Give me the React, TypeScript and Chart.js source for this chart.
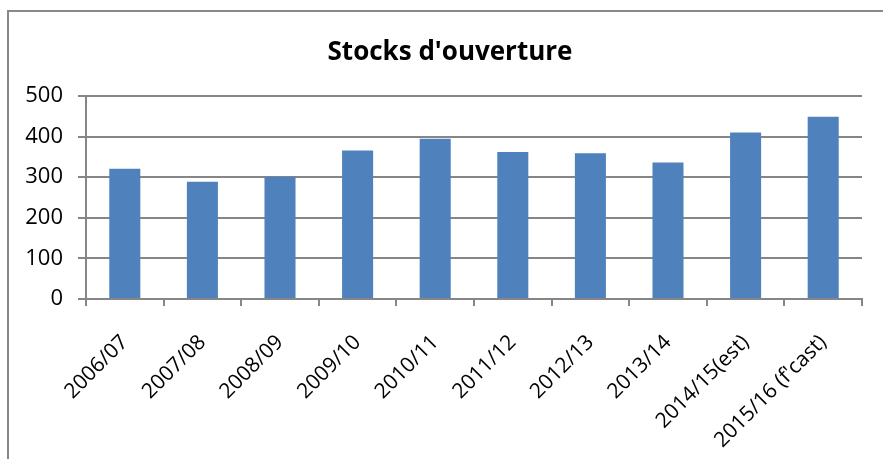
import React, { useEffect, useRef } from "react";
import { Chart, registerables } from "chart.js";

Chart.register(...registerables);

const categories = [
  "2006/07",
  "2007/08",
  "2008/09",
  "2009/10",
  "2010/11",
  "2011/12",
  "2012/13",
  "2013/14",
  "2014/15(est)",
  "2015/16 (f'cast)",
];
const stocks = [321, 289, 301, 366, 395, 362, 359, 336, 410, 449];
const yTicks = [0, 100, 200, 300, 400, 500];
const titleText = "Stocks d'ouverture";

const titlePlugin = {
  id: "customTitle",
  afterDraw(chart: any) {
    const ctx = chart.ctx;
    ctx.save();
    ctx.fillStyle = "#000000";
    ctx.font = "bold 26px 'Open Sans'";
    ctx.textAlign = "center";
    ctx.textBaseline = "middle";
    ctx.fillText(titleText, 450, 53);
    ctx.restore();
  },
};

export default function App() {
  const ref = useRef<HTMLCanvasElement | null>(null);

  useEffect(() => {
    if (!ref.current) return;
    const chart = new Chart(ref.current, {
      type: "bar",
      data: {
        labels: categories,
        datasets: [
          {
            label: "Stocks",
            data: stocks,
            backgroundColor: "#4F81BD",
            borderWidth: 0,
            barPercentage: 0.4,
            categoryPercentage: 1,
          },
        ],
      },
      plugins: [titlePlugin],
      options: {
        responsive: false,
        animation: false,
        layout: { padding: { left: 0, right: 21, top: 96, bottom: 0 } },
        plugins: {
          legend: { display: false },
          tooltip: { enabled: false },
          title: { display: false },
        },
        scales: {
          x: {
            grid: {
              offset: true,
              drawOnChartArea: false,
              drawTicks: true,
              tickLength: 7,
              color: "#868686",
              lineWidth: 2,
            },
            border: { color: "#868686", width: 2 },
            ticks: {
              color: "#000000",
              font: { family: "'Open Sans'", size: 21 },
              minRotation: 45,
              maxRotation: 45,
              autoSkip: false,
              padding: 24,
              labelOffset: 0,
            },
            afterFit: (scale: any) => {
              scale.height = 160;
            },
          },
          y: {
            min: 0,
            max: 500,
            afterBuildTicks: (scale: any) => {
              scale.ticks = yTicks.map((v) => ({ value: v }));
            },
            grid: {
              color: "#868686",
              lineWidth: 2,
              drawTicks: true,
              tickLength: 8,
            },
            border: { color: "#868686", width: 2 },
            ticks: {
              color: "#000000",
              font: { family: "'Open Sans'", size: 22 },
              padding: 15,
            },
            afterFit: (scale: any) => {
              scale.width = 86;
            },
          },
        },
      },
    });
    return () => chart.destroy();
  }, []);

  return (
    <div
      style={{
        position: "fixed",
        left: 0,
        top: 0,
        width: 883,
        height: 459,
        background: "#ffffff",
        overflow: "hidden",
      }}
    >
      <div
        style={{
          position: "absolute",
          left: 7,
          top: 10,
          width: 900,
          height: 480,
          borderLeft: "2px solid #888888",
          borderTop: "2px solid #888888",
          boxSizing: "border-box",
        }}
      />
      <canvas
        ref={ref}
        width={883}
        height={459}
        style={{ position: "absolute", left: 0, top: 0, width: 883, height: 459 }}
      />
    </div>
  );
}
